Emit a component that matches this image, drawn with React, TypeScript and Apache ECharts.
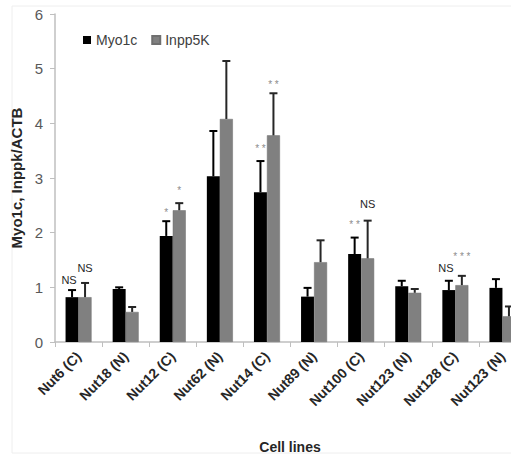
import React, { useEffect, useRef } from "react";
import * as echarts from "echarts";

const categories = [
  "Nut6 (C)", "Nut18 (N)", "Nut12 (C)", "Nut62 (N)", "Nut14 (C)",
  "Nut89 (N)", "Nut100 (C)", "Nut123 (N)", "Nut128 (C)", "Nut123 (N)",
];
const myo1c = [0.82, 0.97, 1.94, 3.03, 2.74, 0.83, 1.61, 1.02, 0.95, 0.99];
const myo1cErrTop = [0.95, 1.0, 2.21, 3.86, 3.31, 0.99, 1.91, 1.12, 1.12, 1.15];
const inpp5k = [0.82, 0.55, 2.41, 4.08, 3.78, 1.46, 1.53, 0.9, 1.04, 0.47];
const inpp5kErrTop = [1.08, 0.64, 2.54, 5.14, 4.55, 1.86, 2.22, 0.97, 1.21, 0.65];
const myo1cAnn = ["NS", "", "*", "", "**", "", "**", "", "NS", ""];
const myo1cAnnAt = [1.13, 0, 2.43, 0, 3.59, 0, 2.2, 0, 1.35, 0];
const inpp5kAnn = ["NS", "", "*", "", "**", "", "NS", "", "***", ""];
const inpp5kAnnAt = [1.35, 0, 2.82, 0, 4.77, 0, 2.52, 0, 1.61, 0];
const yTicks = [0, 1, 2, 3, 4, 5, 6];

const FONT = "'Liberation Sans', Arial, sans-serif";

function errSeries(name: string, vals: number[], tops: number[], ann: string[], annAt: number[], offset: number, annShift: number, color: string) {
  return {
    type: "custom",
    name: name + "-err",
    silent: true,
    z: 5,
    data: vals.map((v, i) => [i, v, tops[i], annAt[i]]),
    renderItem: (params: any, api: any) => {
      const i = api.value(0);
      const base = api.coord([i, api.value(1)]);
      const top = api.coord([i, api.value(2)]);
      const annPt = api.coord([i, api.value(3)]);
      const x = base[0] + offset;
      const a = ann[i];
      const children: any[] = [
        { type: "line", shape: { x1: x, y1: base[1], x2: x, y2: top[1] }, style: { stroke: color, lineWidth: 2 } },
        { type: "line", shape: { x1: x - 4, y1: top[1], x2: x + 4, y2: top[1] }, style: { stroke: color, lineWidth: 2 } },
      ];
      if (a) {
        const isStar = a.indexOf("*") >= 0;
        children.push({
          type: "text",
          x: x + (isStar ? 0 : annShift),
          y: annPt[1] + (isStar ? 3 : 0),
          style: {
            text: isStar ? a.split("").join(" ") : a,
            fontSize: isStar ? 10 : 11,
            fontFamily: FONT,
            fill: isStar ? "#8c8c8c" : "#262626",
            align: "center",
            verticalAlign: "middle",
          },
        });
      }
      return { type: "group", children };
    },
  };
}

export default function App() {
  const ref = useRef<HTMLDivElement>(null);
  useEffect(() => {
    if (!ref.current) return;
    const chart = echarts.init(ref.current, undefined, { renderer: "svg" });
    chart.setOption({
      animation: false,
      backgroundColor: "#ffffff",
      textStyle: { fontFamily: FONT },
      legend: {
        data: ["Myo1c", "Inpp5K"],
        left: 78,
        top: 28,
        icon: "rect",
        itemWidth: 8,
        itemHeight: 8,
        itemGap: 14,
        textStyle: { fontSize: 14, color: "#404040", fontFamily: FONT },
      },
      grid: { left: 55, top: 14, width: 471, height: 328 },
      xAxis: {
        type: "category",
        data: categories,
        axisLine: { lineStyle: { color: "#bfbfbf", width: 1.5 } },
        axisTick: { show: true, length: 5, lineStyle: { color: "#bfbfbf" } },
        axisLabel: {
          rotate: 45,
          interval: 0,
          margin: 12,
          fontSize: 14,
          fontWeight: "bold",
          color: "#262626",
          fontFamily: FONT,
        },
      },
      yAxis: {
        type: "value",
        min: yTicks[0],
        max: yTicks[yTicks.length - 1],
        interval: 1,
        name: "Myo1c, Inppk/ACTB",
        nameLocation: "middle",
        nameGap: 28,
        nameTextStyle: { fontSize: 15, fontWeight: "bold", color: "#262626", fontFamily: FONT },
        axisLine: { show: true, lineStyle: { color: "#bfbfbf", width: 1.5 } },
        axisTick: { show: true, length: 5, lineStyle: { color: "#bfbfbf" } },
        axisLabel: { fontSize: 15, color: "#595959", margin: 12, fontFamily: FONT },
        splitLine: { show: false },
      },
      graphic: [
        {
          type: "rect",
          shape: { x: 12, y: 6, width: 510, height: 447 },
          style: { fill: "none", stroke: "#eeeeee", lineWidth: 1 },
          silent: true,
          z: -1,
        },
        {
          type: "text",
          x: 290,
          y: 447,
          style: {
            text: "Cell lines",
            fontSize: 14,
            fontWeight: "bold",
            fill: "#262626",
            fontFamily: FONT,
            align: "center",
            verticalAlign: "middle",
          },
        },
      ],
      series: [
        { type: "bar", name: "Myo1c", data: myo1c, barWidth: 13, barGap: "0%", itemStyle: { color: "#000000" } },
        { type: "bar", name: "Inpp5K", data: inpp5k, barWidth: 13, barGap: "0%", itemStyle: { color: "#808080", borderColor: "#6f6f6f", borderWidth: 0.5 } },
        errSeries("Myo1c", myo1c, myo1cErrTop, myo1cAnn, myo1cAnnAt, -6.5, -3, "#000000"),
        errSeries("Inpp5K", inpp5k, inpp5kErrTop, inpp5kAnn, inpp5kAnnAt, 6.5, 0, "#262626"),
      ],
    });
    return () => chart.dispose();
  }, []);
  return (
    <div style={{ position: "absolute", left: 0, top: 0, width: 511, height: 459, overflow: "hidden" }}>
      <div ref={ref} style={{ width: 530, height: 459 }} />
    </div>
  );
}
